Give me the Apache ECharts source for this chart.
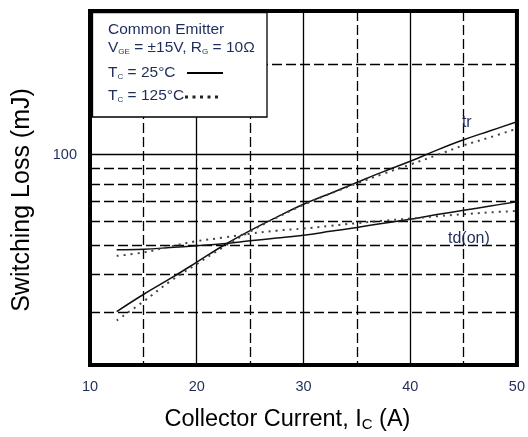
<!DOCTYPE html>
<html>
<head>
<meta charset="utf-8">
<script src="https://cdn.jsdelivr.net/npm/echarts@6/dist/echarts.min.js"></script>
<style>
html,body{margin:0;padding:0;background:#fff;}
#c{width:528px;height:437px;}
</style>
</head>
<body>
<div id="c"></div>
<script>
// Collector current (A)
const xCurrent = [12.5, 15, 17.5, 20, 22.5, 25, 27.5, 30, 32.5, 35, 37.5, 40, 42.5, 45, 47.5, 50];
// Switching loss (mJ)
const tr25   = [30.1, 34.3, 38.7, 43.9, 49.9, 55.9, 62.0, 68.4, 74.3, 80.8, 87.8, 95.0, 103.5, 112, 120, 128.5];
const tr125  = [28.1, 32.5, 37.9, 43.3, 49.3, 55.5, 61.8, 68.1, 74.1, 80.2, 86.4, 92.7, 99.6, 107.3, 114.2, 121.9];
const td25   = [48.3, 48.5, 49.1, 49.8, 50.6, 51.7, 52.8, 54.0, 55.6, 57.3, 59.2, 61.0, 63.2, 65.3, 67.5, 69.7];
const td125  = [46.1, 47.3, 49.5, 51.6, 53.0, 54.6, 55.9, 56.8, 58.0, 59.2, 60.3, 61.3, 62.4, 63.4, 64.3, 65.0];
const yDashedGrid = [30, 40, 50, 60, 70, 80, 90, 200];
const ySolidGrid = [100];
const yTickLabels = [100];
const curveLabels = [
  { text: 'tr', x: 45.3, y: 128 },
  { text: 'td(on)', x: 45.5, y: 52.8 }
];

const FONT = "'Liberation Sans', Arial, Helvetica, sans-serif";
const NAVY = '#1f2d5c';

function pairs(xs, ys) { return xs.map((x, i) => [x, ys[i]]); }

const chart = echarts.init(document.getElementById('c'), null, { renderer: 'canvas' });

const gridLines = yDashedGrid.map(v => ({ yAxis: v, lineStyle: { type: [10, 4], color: '#000', width: 1.3 } }))
  .concat(ySolidGrid.map(v => ({ yAxis: v, lineStyle: { type: 'solid', color: '#000', width: 1.3 } })));

const subRich = { s: { fontSize: 8, fontFamily: FONT, fill: NAVY, verticalAlign: 'bottom', lineHeight: 7 } };

const option = {
  animation: false,
  backgroundColor: '#fff',
  grid: {
    left: 90, right: 7, top: 11, bottom: 71,
    show: true, borderColor: '#000', borderWidth: 4, backgroundColor: 'transparent'
  },
  xAxis: {
    type: 'value', min: 10, max: 50, interval: 10,
    name: 'Collector Current, I{s|C} (A)',
    nameLocation: 'middle', nameGap: 43,
    nameTextStyle: {
      fontFamily: FONT, fontSize: 23.5, color: '#000', padding: [0, 32, 0, 0],
      rich: { s: { fontFamily: FONT, fontSize: 15, color: '#000', verticalAlign: 'bottom', lineHeight: 15 } }
    },
    axisLine: { show: false },
    axisTick: { show: false },
    axisLabel: { fontFamily: FONT, fontSize: 14.5, color: NAVY, margin: 14 },
    splitLine: { show: true, lineStyle: { color: '#000', width: 1.3, type: 'solid' } },
    minorTick: { show: false, splitNumber: 2 },
    minorSplitLine: { show: true, lineStyle: { color: '#000', width: 1.3, type: [10, 4] } }
  },
  yAxis: {
    type: 'log', logBase: 10, min: 20, max: 300,
    name: 'Switching Loss (mJ)',
    nameLocation: 'middle', nameGap: 55,
    nameTextStyle: { fontFamily: FONT, fontSize: 25, color: '#000', padding: [0, 24, 0, 0] },
    axisLine: { show: false },
    axisTick: { show: false },
    axisLabel: { fontFamily: FONT, fontSize: 14.5, color: NAVY, margin: 13, customValues: yTickLabels },
    splitLine: { show: false },
    minorSplitLine: { show: false }
  },
  series: [
    {
      name: 'tr 25', type: 'line', data: pairs(xCurrent, tr25), smooth: 0.4, showSymbol: false,
      lineStyle: { color: '#111', width: 1.5 }, z: 3,
      markLine: { silent: true, symbol: 'none', label: { show: false }, animation: false, data: gridLines, z: 1 },
      markPoint: {
        silent: true, symbol: 'circle', symbolSize: 0,
        data: curveLabels.map(c => ({
          coord: [c.x, c.y],
          label: { show: true, formatter: c.text, fontFamily: FONT, fontSize: 16, color: NAVY, position: 'inside' }
        }))
      }
    },
    {
      name: 'tr 125', type: 'line', data: pairs(xCurrent, tr125), smooth: 0.4, showSymbol: false,
      lineStyle: { color: '#444', width: 2, type: [2, 5] }, z: 3
    },
    {
      name: 'td 25', type: 'line', data: pairs(xCurrent, td25), smooth: 0.4, showSymbol: false,
      lineStyle: { color: '#111', width: 1.5 }, z: 3
    },
    {
      name: 'td 125', type: 'line', data: pairs(xCurrent, td125), smooth: 0.4, showSymbol: false,
      lineStyle: { color: '#444', width: 2, type: [2, 5] }, z: 3
    }
  ],
  graphic: [
    { type: 'rect', z: 100, shape: { x: 92.5, y: 12.5, width: 174.5, height: 104.5 },
      style: { fill: '#fff', stroke: '#000', lineWidth: 1.3 } },
    { type: 'text', z: 101, x: 108, y: 29.5, style: { text: 'Common Emitter', font: '15.5px ' + FONT, fill: NAVY, verticalAlign: 'middle' } },
    { type: 'text', z: 101, x: 108, y: 47.5, style: {
        text: 'V{s|GE} = ±15V, R{s|G} = 10Ω', font: '15.5px ' + FONT, fill: NAVY, verticalAlign: 'middle', rich: subRich } },
    { type: 'text', z: 101, x: 108, y: 72.5, style: {
        text: 'T{s|C} = 25°C', font: '15.5px ' + FONT, fill: NAVY, verticalAlign: 'middle', rich: subRich } },
    { type: 'text', z: 101, x: 108, y: 96, style: {
        text: 'T{s|C} = 125°C', font: '15.5px ' + FONT, fill: NAVY, verticalAlign: 'middle', rich: subRich } },
    { type: 'line', z: 101, shape: { x1: 187, y1: 73, x2: 223, y2: 73 }, style: { stroke: '#000', lineWidth: 2 } },
    { type: 'line', z: 101, shape: { x1: 185, y1: 97, x2: 218, y2: 97 }, style: { stroke: '#222', lineWidth: 3, lineDash: [3, 4.5] } }
  ]
};
chart.setOption(option);
</script>
</body>
</html>
